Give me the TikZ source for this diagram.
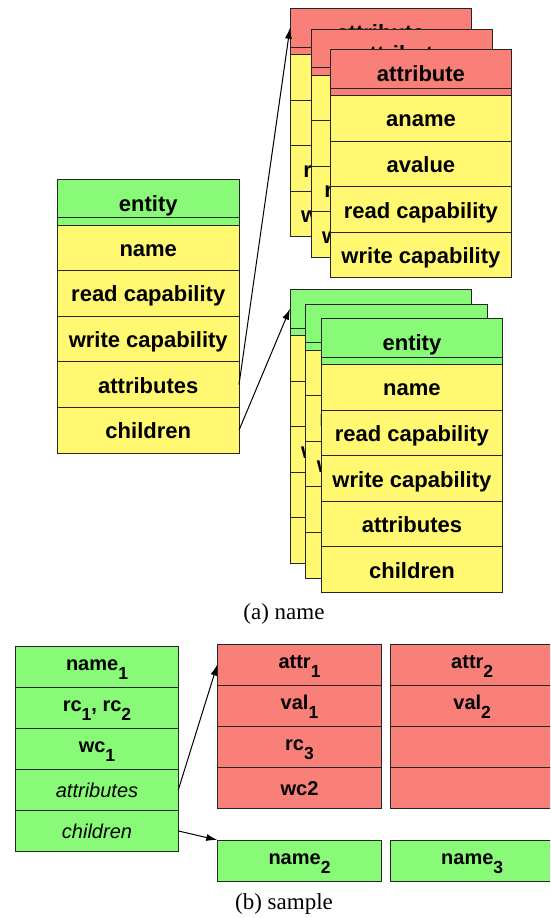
\documentclass[tikz,border=0pt]{standalone}
\usepackage{fontspec}
\setmainfont{Liberation Serif}
\setsansfont{Liberation Sans}
\usetikzlibrary{arrows.meta}
\definecolor{boxgreen}{HTML}{88FA78}
\definecolor{boxyellow}{HTML}{FFF870}
\definecolor{boxred}{HTML}{F88078}
\newcommand\subd[1]{\raisebox{-9pt}{\fontsize{17.5}{17.5}\selectfont #1}}
\tikzset{
  cellbase/.style={draw=black!85, line width=1pt, inner sep=0pt, outer sep=0pt, anchor=north west},
  bigtext/.style={font=\sffamily\bfseries\fontsize{22}{26}\selectfont},
  headtext/.style={bigtext, text height=26pt, text depth=0pt},
  rowtext/.style={bigtext, text height=17pt, text depth=0pt},
  smalltext/.style={font=\sffamily\bfseries\fontsize{20}{24}\selectfont},
  subtext/.style={text height=13pt, text depth=6pt},
  plaintext/.style={text height=16pt, text depth=0pt},
  conn/.style={line width=1pt, -{Latex[length=11pt,width=7pt]}},
  captext/.style={font=\rmfamily\fontsize{23}{27}\selectfont}
}
% #1 prefix, #2 x, #3 y, #4 width, #5 head colour, #6 head text, #7 rows
\newcommand\umlstack[7]{%
  \node[cellbase, headtext, fill=#5, minimum width=#4pt, minimum height=38.5pt] (#1h) at (#2,#3) {#6};
  \node[cellbase, fill=#5, minimum width=#4pt, minimum height=7.5pt] (#1s) at (#1h.south west) {};
  \foreach \t [count=\i] in {#7} {
    \node[cellbase, rowtext, fill=boxyellow, minimum width=#4pt, minimum height=45.6pt] (#1r\i) at (#2,{#3+46+(\i-1)*45.6}) {\t};
  }%
}
\begin{document}
\begin{tikzpicture}[x=1pt,y=-1pt]
\useasboundingbox (0,0) rectangle (550,918);
\clip (0,0) rectangle (550,918);
% (a) attribute stack
\umlstack{atA}{290}{8.5}{181}{boxred}{attribute}{aname,avalue,read capability,write capability}
\umlstack{atB}{311}{29}{181}{boxred}{attribute}{aname,avalue,read capability,write capability}
\umlstack{atC}{330.7}{49.5}{180.5}{boxred}{attribute}{aname,avalue,read capability,write capability}
% (a) entity stack
\umlstack{enA}{290}{289.5}{181.3}{boxgreen}{entity}{name,read capability,write capability,attributes,children}
\umlstack{enB}{305.7}{304}{181.3}{boxgreen}{entity}{name,read capability,write capability,attributes,children}
\umlstack{enC}{321.3}{318.5}{181.3}{boxgreen}{entity}{name,read capability,write capability,attributes,children}
% (a) main entity
\umlstack{ent}{57.5}{179}{181.5}{boxgreen}{entity}{name,read capability,write capability,attributes,children}
\draw[conn] (entr4.east) -- (atAh.west);
\draw[conn] (entr5.east) -- (enAh.west);
\node[captext] (capa) at (284,614) {(a)\ name};
% (b) sample
\tikzset{smallcell/.style={cellbase, smalltext, minimum width=#1, minimum height=41.1pt}}
\node[smallcell=162.6pt, subtext, fill=boxgreen] (s1) at (15.7,646) {name\subd{1}};
\node[smallcell=162.6pt, subtext, fill=boxgreen] (s2) at (15.7,687.1) {rc\subd{1}, rc\subd{2}};
\node[smallcell=162.6pt, subtext, fill=boxgreen] (s3) at (15.7,728.2) {wc\subd{1}};
\node[smallcell=162.6pt, plaintext, fill=boxgreen, font=\sffamily\itshape\fontsize{20}{24}\selectfont] (s4) at (15.7,769.3) {attributes};
\node[smallcell=162.6pt, plaintext, fill=boxgreen, font=\sffamily\itshape\fontsize{20}{24}\selectfont] (s5) at (15.7,810.4) {children};
\node[smallcell=164.4pt, subtext, fill=boxred] (ra1) at (217.3,644) {attr\subd{1}};
\node[smallcell=164.4pt, subtext, fill=boxred] (ra2) at (217.3,685.1) {val\subd{1}};
\node[smallcell=164.4pt, subtext, fill=boxred] (ra3) at (217.3,726.2) {rc\subd{3}};
\node[smallcell=164.4pt, plaintext, fill=boxred] (ra4) at (217.3,767.3) {wc2};
\node[smallcell=164.4pt, subtext, fill=boxred] (rb1) at (390,644) {attr\subd{2}};
\node[smallcell=164.4pt, subtext, fill=boxred] (rb2) at (390,685.1) {val\subd{2}};
\node[smallcell=164.4pt, fill=boxred] (rb3) at (390,726.2) {};
\node[smallcell=164.4pt, fill=boxred] (rb4) at (390,767.3) {};
\node[smallcell=164.4pt, subtext, fill=boxgreen] (g1) at (217.3,840) {name\subd{2}};
\node[smallcell=164.4pt, subtext, fill=boxgreen] (g2) at (390,840) {name\subd{3}};
\draw[conn] (s4.east) -- (ra1.west);
\draw[conn] (s5.east) -- (g1.north west);
\node[captext] (capb) at (284,904) {(b)\ sample};
\end{tikzpicture}
\end{document}
